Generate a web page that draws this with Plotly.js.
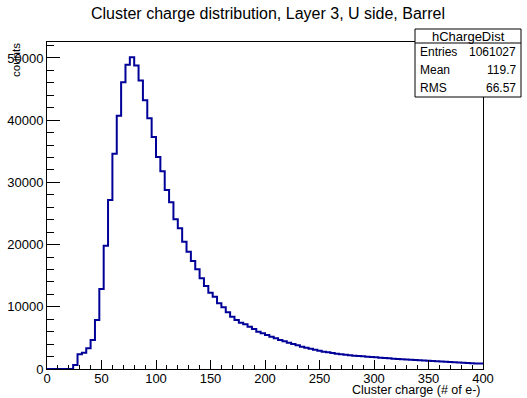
<!DOCTYPE html>
<html>
<head>
<meta charset="utf-8">
<script src="https://cdn.plot.ly/plotly-3.0.1.min.js"></script>
<style>html,body{margin:0;padding:0;background:#fff;}#plot{width:527px;height:398px;}</style>
</head>
<body>
<div id="plot"></div>
<script>
// ---- data ----
const binLow = 0;
const binWidth = 4;
const counts = [
  0, 0, 0, 0, 0, 0,
  640, 2360, 2620, 3320, 4660, 7880, 12860, 19830, 27170, 34600,
  40700, 46100, 48900, 50100, 48800, 46400, 43200, 40300, 37300, 34100,
  31800, 28780, 26800, 24070, 22620, 20470, 18860, 17360, 16020, 14580,
  13340, 12270, 11630, 10560, 9920, 9110, 8410, 7880, 7450, 7190,
  6800, 6430, 6000, 5740, 5470, 5200, 4930, 4660, 4450, 4230,
  4020, 3810, 3590, 3420, 3260, 3100, 2940, 2780, 2680, 2570,
  2460, 2360, 2300, 2200, 2140, 2090, 2040, 1980, 1930, 1870,
  1820, 1760, 1710, 1660, 1610, 1560, 1510, 1470, 1430, 1390,
  1350, 1310, 1270, 1230, 1190, 1150, 1110, 1080, 1040, 1000,
  970, 940, 900, 870
];
const histName = "hChargeDist";
const statLabels = ["Entries", "Mean", "RMS"];
const statValues = ["1061027", "119.7", "66.57"];
const titleText = "Cluster charge distribution, Layer 3, U side, Barrel";
const xTitle = "Cluster charge (# of e-)";
const yTitle = "counts";

// ---- build step outline ----
const edges = [];
const ys = [];
for (let i = 0; i <= counts.length; i++) {
  edges.push(binLow + i * binWidth);
  ys.push(i < counts.length ? counts[i] : counts[counts.length - 1]);
}

// ---- layout geometry (pixels) ----
const W = 527, H = 398;
const L = 47, R = 483, T = 42, B = 369;
const px = X => (X - L) / (R - L);
const py = Y => (B - Y) / (B - T);
const FONT = "Liberation Sans, Arial, sans-serif";

const trace = {
  x: edges, y: ys, type: 'scatter', mode: 'lines',
  line: {shape: 'hv', color: '#000099', width: 2},
  hoverinfo: 'skip', showlegend: false, cliponaxis: true
};

const box = {x0: 415, x1: 521, y0: 29, y1: 97, yDiv: 43};
const rowH = (box.y1 - box.yDiv) / statLabels.length;

const shapes = [
  {type: 'rect', xref: 'paper', yref: 'paper', x0: px(box.x0), x1: px(box.x1), y0: py(box.y1), y1: py(box.y0),
   line: {color: 'black', width: 1}, fillcolor: 'white', layer: 'above'},
  {type: 'line', xref: 'paper', yref: 'paper', x0: px(box.x0), x1: px(box.x1), y0: py(box.yDiv), y1: py(box.yDiv),
   line: {color: 'black', width: 1}, layer: 'above'}
];

const annotations = [
  {text: titleText, xref: 'paper', yref: 'paper', x: px(W / 2 + 4), y: py(14), xanchor: 'center', yanchor: 'middle',
   showarrow: false, font: {family: FONT, size: 16, color: 'black'}},
  {text: xTitle, xref: 'paper', yref: 'paper', x: 1, y: py(390), xanchor: 'right', yanchor: 'middle',
   showarrow: false, font: {family: FONT, size: 12.5, color: 'black'}},
  {text: yTitle, xref: 'paper', yref: 'paper', x: px(16), y: py(41), xanchor: 'center', yanchor: 'top', textangle: -90,
   showarrow: false, font: {family: FONT, size: 11.5, color: 'black'}},
  {text: histName, xref: 'paper', yref: 'paper', x: px((box.x0 + box.x1) / 2), y: py((box.y0 + box.yDiv) / 2),
   xanchor: 'center', yanchor: 'middle', showarrow: false, font: {family: FONT, size: 13, color: 'black'}}
];
statLabels.forEach((lab, i) => {
  const yc = box.yDiv + rowH * (i + 0.5);
  annotations.push({text: lab, xref: 'paper', yref: 'paper', x: px(box.x0 + 3), y: py(yc), xanchor: 'left', yanchor: 'middle',
    showarrow: false, font: {family: FONT, size: 12, color: 'black'}});
  annotations.push({text: statValues[i], xref: 'paper', yref: 'paper', x: px(box.x1 - 3), y: py(yc), xanchor: 'right', yanchor: 'middle',
    showarrow: false, font: {family: FONT, size: 12, color: 'black'}});
});

const layout = {
  width: W, height: H,
  margin: {l: L, r: W - R, t: T, b: H - B, pad: 0},
  paper_bgcolor: 'white', plot_bgcolor: 'white',
  font: {family: FONT, size: 12.5, color: 'black'},
  xaxis: {
    range: [0, 400], tickmode: 'linear', tick0: 0, dtick: 50,
    ticks: 'inside', ticklen: 9, tickwidth: 1, tickcolor: 'black',
    minor: {dtick: 10, ticks: 'inside', ticklen: 4.5, tickcolor: 'black', tickwidth: 1, showgrid: false},
    showline: true, linecolor: 'black', linewidth: 1, mirror: true, ticklabelstandoff: -3,
    showgrid: false, zeroline: false, tickfont: {family: FONT, size: 13, color: 'black'}, fixedrange: true
  },
  yaxis: {
    range: [0, 52570], tickmode: 'linear', tick0: 0, dtick: 10000,
    ticks: 'inside', ticklen: 13, tickwidth: 1, tickcolor: 'black',
    minor: {dtick: 2000, ticks: 'inside', ticklen: 6.5, tickcolor: 'black', tickwidth: 1, showgrid: false},
    showline: true, linecolor: 'black', linewidth: 1, mirror: true,
    showgrid: false, zeroline: false, tickfont: {family: FONT, size: 13, color: 'black'},
    tickformat: 'd', separatethousands: false, exponentformat: 'none', fixedrange: true
  },
  shapes: shapes,
  annotations: annotations,
  showlegend: false
};

Plotly.newPlot('plot', [trace], layout, {staticPlot: true, displayModeBar: false});
</script>
</body>
</html>
